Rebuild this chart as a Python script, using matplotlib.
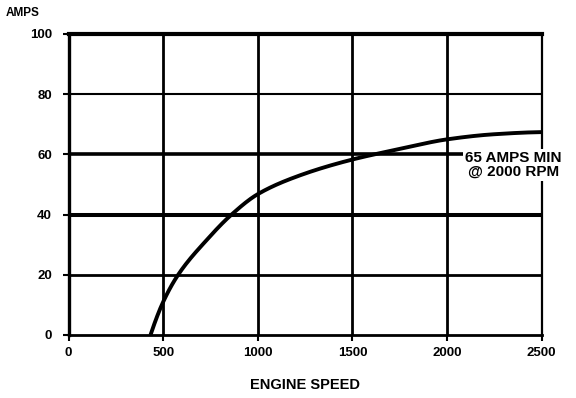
import matplotlib
matplotlib.use("Agg")
import matplotlib.pyplot as plt
import numpy as np

plt.rcParams['font.family'] = ['Liberation Sans', 'DejaVu Sans']

# Data
engine_speed = [433, 500, 579, 729, 861, 1000, 1221, 1500, 1750, 2000, 2250, 2500]
amps = [0, 11.0, 20.0, 31.5, 40.0, 46.8, 53.0, 58.3, 61.8, 65.0, 66.7, 67.4]

x_ticks = [0, 500, 1000, 1500, 2000, 2500]
y_ticks = [0, 20, 40, 60, 80, 100]
annotation = "65 AMPS MIN\n@ 2000 RPM"

fig = plt.figure(figsize=(5.76, 3.98), dpi=100)
ax = fig.add_axes([0.119, 0.1583, 0.8215, 0.7563])
ax.set_xlim(0, 2500)
ax.set_ylim(0, 100)

# grid lines with varying widths
hwidths = {20: 2.0, 40: 2.9, 60: 2.6, 80: 1.5}
for y, lw in hwidths.items():
    ax.axhline(y, color='black', lw=lw, zorder=1)
for x in [500, 1000, 1500, 2000]:
    ax.axvline(x, color='black', lw=2.0, zorder=1)

# spines
for s in ax.spines.values():
    s.set_color('black')
ax.spines['top'].set_linewidth(3.0)
ax.spines['left'].set_linewidth(2.4)
ax.spines['bottom'].set_linewidth(2.0)
ax.spines['right'].set_linewidth(1.6)

xs = np.array(engine_speed, dtype=float)
ys = np.array(amps, dtype=float)
xf = np.linspace(xs[0], xs[-1], 400)

def pchip(x, y, xq):
    h = np.diff(x)
    d = np.diff(y) / h
    m = np.zeros_like(y)
    for k in range(1, len(y) - 1):
        if d[k - 1] * d[k] > 0:
            w1 = 2 * h[k] + h[k - 1]
            w2 = h[k] + 2 * h[k - 1]
            m[k] = (w1 + w2) / (w1 / d[k - 1] + w2 / d[k])
    def end(h0, h1, d0, d1):
        v = ((2 * h0 + h1) * d0 - h0 * d1) / (h0 + h1)
        if np.sign(v) != np.sign(d0):
            v = 0.0
        elif np.sign(d0) != np.sign(d1) and abs(v) > abs(3 * d0):
            v = 3 * d0
        return v
    m[0] = end(h[0], h[1], d[0], d[1])
    m[-1] = end(h[-1], h[-2], d[-1], d[-2])
    idx = np.clip(np.searchsorted(x, xq) - 1, 0, len(x) - 2)
    t = (xq - x[idx]) / h[idx]
    h00 = 2 * t**3 - 3 * t**2 + 1
    h10 = t**3 - 2 * t**2 + t
    h01 = -2 * t**3 + 3 * t**2
    h11 = t**3 - t**2
    return h00 * y[idx] + h10 * h[idx] * m[idx] + h01 * y[idx + 1] + h11 * h[idx] * m[idx + 1]

ax.plot(xf, pchip(xs, ys, xf), color='black', lw=2.8, zorder=3, clip_on=False,
        solid_capstyle='butt')

ax.set_xticks(x_ticks)
ax.set_yticks(y_ticks)
ax.set_xticklabels([str(v) for v in x_ticks], fontsize=9.5, fontweight='bold')
ax.set_yticklabels([str(v) for v in y_ticks], fontsize=9.5, fontweight='bold')
ax.tick_params(axis='both', direction='out', length=4, width=1.5, color='black', pad=5)
ax.tick_params(axis='y', pad=8)

ax.set_xlabel("ENGINE SPEED", fontsize=10.5, fontweight='bold', labelpad=13)
fig.text(23 / 576, 1 - 13.5 / 398, "AMPS", fontsize=8.5, fontweight='bold',
         ha='center', va='center')

ax.text(2350, 56.5, annotation, fontsize=11, fontweight='bold', ha='center', va='center',
        linespacing=0.95, zorder=4, clip_on=False,
        bbox=dict(facecolor='white', edgecolor='none', pad=1.5))

fig.savefig("out.png", dpi=100)
